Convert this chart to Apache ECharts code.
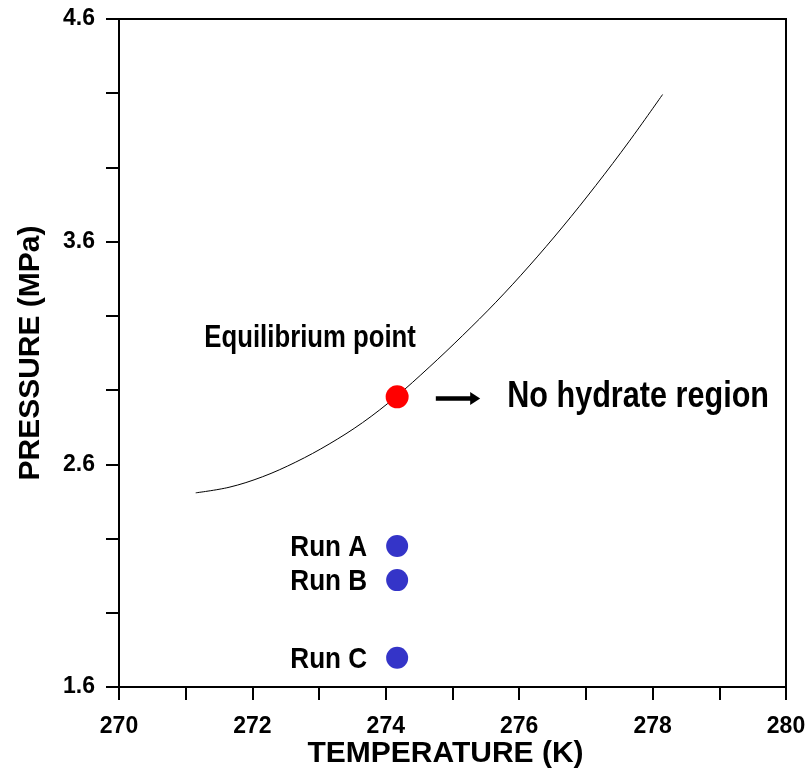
<!DOCTYPE html>
<html><head><meta charset="utf-8">
<script src="https://cdn.jsdelivr.net/npm/echarts@6/dist/echarts.min.js"></script>
<style>html,body{margin:0;padding:0;background:#fff;overflow:hidden}#c{width:807px;height:770px}</style>
</head><body><div id="c"></div>
<script>
// Equilibrium curve (temperature K, pressure MPa)
const curveTemps = [271.15, 271.65, 272.15, 272.65, 273.15, 273.65, 274.15, 274.65, 275.15, 275.65, 276.15, 276.65, 277.15, 277.65, 278.15];
const curvePressures = [2.472, 2.497, 2.544, 2.610, 2.691, 2.787, 2.903, 3.036, 3.178, 3.328, 3.491, 3.666, 3.853, 4.051, 4.261];
// Equilibrium point
const eqTemps = [274.17];
const eqPressures = [2.903];
// Runs
const runNames = ['Run A', 'Run B', 'Run C'];
const runTemps = [274.17, 274.17, 274.17];
const runPressures = [2.233, 2.080, 1.731];
// Arrow annotation (data coords)
const arrowTemps = [274.75, 275.34];
const arrowPressures = [2.896, 2.896];
// Tick labels
const xTickLabels = [270, 272, 274, 276, 278, 280];
const yTickLabels = [1.6, 2.6, 3.6, 4.6];

const FONT = "'Liberation Sans', Arial, sans-serif";

const chart = echarts.init(document.getElementById('c'), null, {renderer: 'canvas'});
const axisCommon = {
  axisLine: {show: true, lineStyle: {color: '#000', width: 2}},
  axisTick: {show: true, inside: false, length: 13, lineStyle: {color: '#000', width: 2}},
  splitLine: {show: false},
  nameLocation: 'middle',
  nameMoveOverlap: false
};
chart.setOption({
  animation: false,
  backgroundColor: '#fff',
  grid: {left: 119, right: 21, top: 19, bottom: 83, containLabel: false, outerBoundsMode: 'none',
    show: true, borderColor: '#000', borderWidth: 2, backgroundColor: 'transparent'},
  xAxis: Object.assign({}, axisCommon, {
    type: 'value', min: 270, max: 280, interval: 1,
    name: 'TEMPERATURE (K)', nameGap: 52,
    nameTextStyle: {fontFamily: FONT, fontWeight: 'bold', fontSize: 30, color: '#000', padding: [0, 14, 0, 0]},
    axisLabel: {margin: 28, fontFamily: FONT, fontWeight: 'bold', fontSize: 23, color: '#000',
      formatter: v => xTickLabels.some(t => Math.abs(t - v) < 1e-6) ? String(Math.round(v)) : ''}
  }),
  yAxis: Object.assign({}, axisCommon, {
    type: 'value', min: 1.6, max: 4.6, interval: 1 / 3,
    name: 'PRESSURE (MPa)', nameGap: 73,
    nameTextStyle: {fontFamily: FONT, fontWeight: 'bold', fontSize: 30, color: '#000'},
    axisLabel: {margin: 24, fontFamily: FONT, fontWeight: 'bold', fontSize: 23, color: '#000',
      formatter: v => { const t = yTickLabels.find(t => Math.abs(t - v) < 1e-4); return t === undefined ? '' : t.toFixed(1); }}
  }),
  series: [
    {
      type: 'line', smooth: 0.35, showSymbol: false, symbol: 'none',
      lineStyle: {color: '#000', width: 1},
      data: curveTemps.map((t, i) => [t, curvePressures[i]]),
      z: 2,
      markLine: {
        silent: true, symbol: ['none', 'triangle'], symbolSize: [13, 10],
        lineStyle: {color: '#000', width: 4.5, type: 'solid', opacity: 1},
        label: {show: false},
        data: [[{coord: [arrowTemps[0], arrowPressures[0]]}, {coord: [arrowTemps[1], arrowPressures[1]]}]]
      }
    },
    {
      type: 'scatter', symbol: 'circle', symbolSize: 23,
      itemStyle: {color: '#ff0000', opacity: 1},
      data: eqTemps.map((t, i) => [t, eqPressures[i]]),
      z: 3
    },
    {
      type: 'scatter', symbol: 'circle', symbolSize: 22,
      itemStyle: {color: '#3434c8', opacity: 1},
      data: runNames.map((n, i) => ({name: n, value: [runTemps[i], runPressures[i]]})),
      z: 3
    }
  ]
});

// Condensed bold annotation texts, anchored to data positions
function narrowText(text, x, y, size, align, sx) {
  return {type: 'text', x: x, y: y, scaleX: sx, scaleY: 1, z: 10,
    style: {text: text, fill: '#000', align: align, verticalAlign: 'middle',
      font: 'bold ' + size + 'px ' + FONT}};
}
const eqPx = chart.convertToPixel({gridIndex: 0}, [eqTemps[0], eqPressures[0]]);
const arrowEndPx = chart.convertToPixel({gridIndex: 0}, [arrowTemps[1], arrowPressures[1]]);
const elements = [
  narrowText('Equilibrium point', eqPx[0] - 87, eqPx[1] - 58, 31, 'center', 0.83),
  narrowText('No hydrate region', arrowEndPx[0] + 32, arrowEndPx[1] - 1, 36, 'left', 0.85)
];
runNames.forEach((n, i) => {
  const p = chart.convertToPixel({gridIndex: 0}, [runTemps[i], runPressures[i]]);
  elements.push(narrowText(n, p[0] - 30, p[1] + 2, 30, 'right', 0.87));
});
chart.setOption({graphic: elements});
</script>
</body></html>
